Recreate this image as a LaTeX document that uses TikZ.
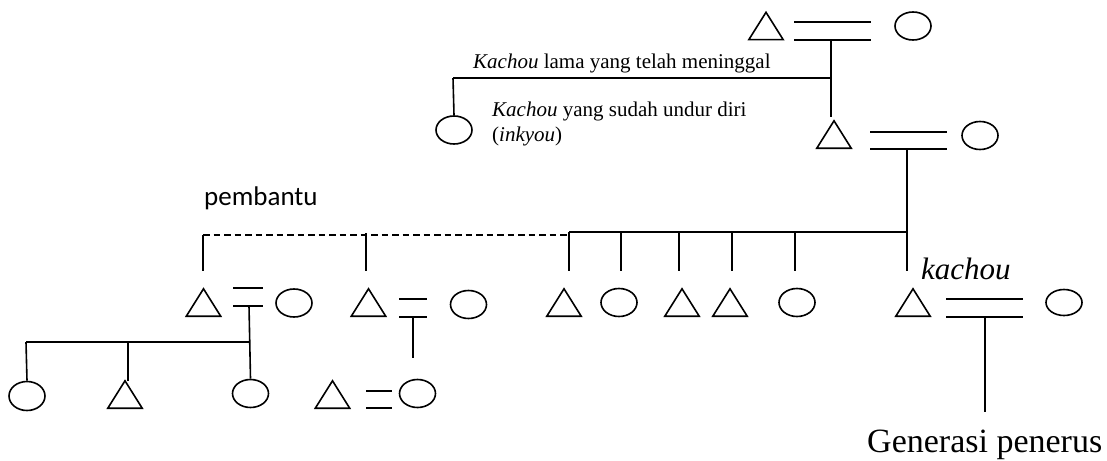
\documentclass[tikz,border=0pt]{standalone}
\usepackage{fontspec}
\setmainfont{Liberation Serif}
\newfontfamily\calibrifont{Carlito}
\usetikzlibrary{shapes.geometric}
\begin{document}
\begin{tikzpicture}[x=1pt,y=-1pt,
  ln/.style={line width=1.6pt},
  dashln/.style={line width=1.4pt, dash pattern=on 6.5pt off 4pt},
  tri/.style={inner sep=0pt, minimum width=34pt, minimum height=27pt,
    append after command={\pgfextra{\draw[line width=1.6pt, line join=miter]
      (\tikzlastnode.north) -- (\tikzlastnode.south east) -- (\tikzlastnode.south west) -- cycle;}}},
  ell/.style={draw, ellipse, line width=1.6pt, inner sep=0pt, minimum width=36pt, minimum height=28pt},
  txt/.style={anchor=base west, inner sep=0pt},
]
\useasboundingbox (0,0) rectangle (1107,460);

% ---------- shapes ----------
\node[tri] (T0) at (766,26) {};
\node[ell] (C0) at (913,26) {};
\node[ell] (Cr) at (454,130) {};
\node[tri] (T1) at (834,134.5) {};
\node[ell] (C1) at (980,135.5) {};

\node[tri] (A1) at (564,302.5) {};
\node[ell] (A2) at (619,302.5) {};
\node[tri] (A3) at (682,302.5) {};
\node[tri] (A4) at (730,302.5) {};
\node[ell] (A5) at (797,302.5) {};
\node[tri] (K)  at (913,302.5) {};
\node[ell, minimum height=26pt] (KW) at (1064,302.5) {};

\node[tri] (P1)  at (203.5,302.5) {};
\node[ell] (P1w) at (294,303) {};
\node[tri] (P2)  at (368.5,302.5) {};
\node[ell] (P2w) at (468.5,304.5) {};

\node[ell, minimum height=29pt] (G1) at (27,396) {};
\node[tri] (G2) at (125,394.5) {};
\node[ell] (G3) at (250.5,393.5) {};
\node[tri] (H)  at (332.5,394.5) {};
\node[ell] (Hw) at (417.5,393.5) {};

% ---------- texts ----------
\node[txt] (lama) at (473,68) {\fontsize{21}{25}\selectfont\textit{Kachou} lama yang telah meninggal};
\node[txt] (undur) at (492,116) {\fontsize{21}{25}\selectfont\textit{Kachou} yang sudah undur diri};
\node[txt] (inkyou) at (492,141) {\fontsize{21}{25}\selectfont(\textit{inkyou})};
\node[txt] (pembantu) at (204,205) {\calibrifont\fontsize{27}{32}\selectfont pembantu};
\node[txt] (kachou) at (921,279) {\fontsize{31}{36}\selectfont\textit{kachou}};
\node[txt] (gen) at (867,452) {\fontsize{34}{40}\selectfont Generasi penerus};

% ---------- coordinates ----------
% top couple
\coordinate (m0a) at (794,22);  \coordinate (m0b) at (871,22);
\coordinate (m0c) at (794,40);  \coordinate (m0d) at (871,40);
\coordinate (j0) at (831,40);   \coordinate (j0b) at (831,78);  \coordinate (j0c) at (831,117);
\coordinate (r0) at (453,78);
% second couple
\coordinate (m1a) at (870,132); \coordinate (m1b) at (947,132);
\coordinate (m1c) at (870,149); \coordinate (m1d) at (947,149);
\coordinate (j1) at (907,149);  \coordinate (j1b) at (907,232); \coordinate (j1c) at (907,271);
\coordinate (bar0) at (569,232);
\coordinate (b1) at (569,232) ; \coordinate (d1) at (569,271);
\coordinate (b2) at (621,232) ; \coordinate (d2) at (621,271);
\coordinate (b3) at (679,232) ; \coordinate (d3) at (679,271);
\coordinate (b4) at (732,232) ; \coordinate (d4) at (732,271);
\coordinate (b5) at (795,232) ; \coordinate (d5) at (795,271);
% kachou couple
\coordinate (mka) at (946,299); \coordinate (mkb) at (1023,299);
\coordinate (mkc) at (946,317); \coordinate (mkd) at (1023,317);
\coordinate (jk) at (985,317);  \coordinate (jkb) at (985,412);
% pembantu dashed line
\coordinate (pd0) at (203,235); \coordinate (pd1) at (569,235);
\coordinate (pp1) at (203,271);
\coordinate (pq0) at (366,233); \coordinate (pp2) at (366,271);
% left couple
\coordinate (mpa) at (233,288); \coordinate (mpb) at (263,288);
\coordinate (mpc) at (233,306); \coordinate (mpd) at (263,306);
\coordinate (jp) at (249,306);  \coordinate (jpb) at (249,342);
\coordinate (gl) at (26,342);   \coordinate (gm) at (128,342);
% second pembantu couple
\coordinate (mqa) at (399,299); \coordinate (mqb) at (427,299);
\coordinate (mqc) at (399,317); \coordinate (mqd) at (427,317);
\coordinate (jq) at (413,317);  \coordinate (jqb) at (413,358);
% bottom couple
\coordinate (mha) at (366,391); \coordinate (mhb) at (392,391);
\coordinate (mhc) at (366,408); \coordinate (mhd) at (392,408);

% ---------- connectors ----------
\draw[ln] (m0a) -- (m0b);
\draw[ln] (m0c) -- (m0d);
\draw[ln] (j0) -- (j0c);
\draw[ln] (r0) -- (j0b);
\draw[ln] (r0) -- (Cr.north);

\draw[ln] (m1a) -- (m1b);
\draw[ln] (m1c) -- (m1d);
\draw[ln] (j1) -- (j1c);
\draw[ln] (bar0) -- (j1b);
\draw[ln] (b1) -- (d1);
\draw[ln] (b2) -- (d2);
\draw[ln] (b3) -- (d3);
\draw[ln] (b4) -- (d4);
\draw[ln] (b5) -- (d5);

\draw[ln] (mka) -- (mkb);
\draw[ln] (mkc) -- (mkd);
\draw[ln] (jk) -- (jkb);

\draw[dashln] (pd0) -- (pd1);
\draw[ln] (pd0) -- (pp1);
\draw[ln] (pq0) -- (pp2);

\draw[ln] (mpa) -- (mpb);
\draw[ln] (mpc) -- (mpd);
\draw[ln] (jp) -- (G3.north);
\draw[ln] (gl) -- (jpb);
\draw[ln] (gl) -- (G1.north);
\draw[ln] (gm) -- (gm |- G2.north);

\draw[ln] (mqa) -- (mqb);
\draw[ln] (mqc) -- (mqd);
\draw[ln] (jq) -- (jqb);

\draw[ln] (mha) -- (mhb);
\draw[ln] (mhc) -- (mhd);
\end{tikzpicture}
\end{document}
